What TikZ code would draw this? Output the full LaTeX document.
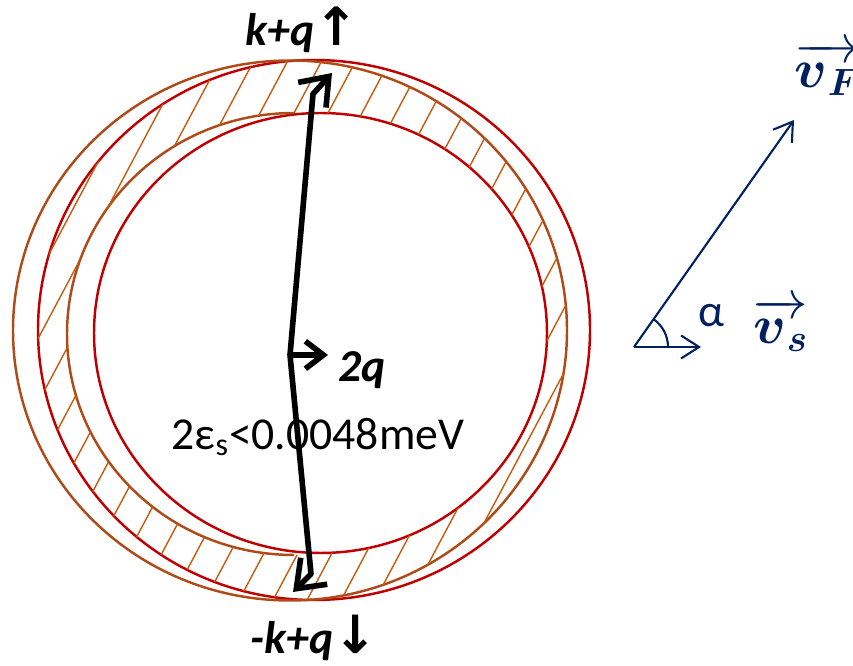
\RequirePackage{fix-cm}
\documentclass[tikz,border=0pt]{standalone}
\usepackage{amsmath}
\usepackage{fontspec}
\setmainfont{Carlito}
\newfontfamily\arrowfont{DejaVu Sans}
\usetikzlibrary{arrows.meta}
\definecolor{fsred}{RGB}{192,0,0}
\definecolor{fsbrown}{RGB}{175,75,25}
\definecolor{hatchc}{RGB}{197,90,17}
\definecolor{navy}{RGB}{0,32,96}

\begin{document}
\begin{tikzpicture}[x=0.02cm,y=0.02cm,
        shell/.style={line width=1.4pt},
        hatch/.style={hatchc,line width=0.8pt},
        bigvec/.style={line width=3.2pt,line join=round,-{Straight Barb[length=0.5cm,width=0.75cm]}},
        qvec/.style={line width=3.2pt,-{Straight Barb[length=0.36cm,width=0.55cm]}},
        vec/.style={navy,line width=1.2pt,-{Straight Barb[length=0.36cm,width=0.46cm]}},
        lbl/.style={font=\fontsize{26}{30}\selectfont},
        mlbl/.style={text=navy,inner sep=1pt,font=\fontsize{31}{34}\selectfont}]
            \useasboundingbox (0,0) rectangle (853,666);
            \draw[shell,fsred] (314,336) ellipse [x radius=276, y radius=270];
            \draw[shell,fsred] (320.5,333) ellipse [x radius=226.5, y radius=220];
            \draw[shell,fsbrown] (290,335.5) ellipse [x radius=277, y radius=270];
            \draw[shell,fsbrown] (294,553) arc [start angle=90, end angle=270, x radius=227, y radius=221];
            \begin{scope}[even odd rule]
                \clip (314,336) ellipse [x radius=276, y radius=270];
                \clip (290,335.5) ellipse [x radius=277, y radius=270];
                \clip (-50,-50) rectangle (900,720) (320.5,333) ellipse [x radius=226.5, y radius=220];
                \clip (-50,-50) rectangle (900,720) (294,332) ellipse [x radius=227, y radius=221];
                \foreach \x in {-340,-306,...,620}
                    \draw[hatch] (\x,0) -- ++(62:800);
            \end{scope}
            \coordinate (O) at (290,311);
            \coordinate (kup) at (313,572);
            \coordinate (kuptip) at (332,593);
            \coordinate (kdn) at (311,92);
            \coordinate (kdntip) at (293,74);
            \coordinate (qtip) at (328,311);
            \draw[bigvec] (O) -- (kup) -- (kuptip);
            \draw[bigvec] (O) -- (kdn) -- (kdntip);
            \draw[qvec] (O) -- (qtip);
            \node[lbl] (kq) at (302,636) {\bfseries\itshape k+q{\arrowfont\fontsize{30}{30}\selectfont↑}};
            \node[lbl] (mkq) at (314,28) {\bfseries\itshape -k+q{\arrowfont\fontsize{30}{30}\selectfont↓}};
            \node[lbl,anchor=west] (twoq) at (332,296) {\bfseries\itshape 2q};
            \node[lbl] (gap) at (318,229) {2ε\textsubscript{s}<0.0048meV};
            \coordinate (A) at (634,319);
            \coordinate (vFtip) at (794,546);
            \coordinate (vstip) at (701,319);
            \draw[vec] (A) -- (vFtip);
            \draw[vec] (A) -- (vstip);
            \draw[navy,line width=1.2pt] (A) ++(34,0) arc [start angle=0, end angle=55, radius=34];
            \node[lbl,text=navy,inner sep=1pt] (alpha) at (711,350) {α};
            \node[mlbl] (vs) at (781,341) {$\overrightarrow{\boldsymbol{v}_{\boldsymbol{s}}}$};
            \node[mlbl] (vF) at (828,597) {$\overrightarrow{\boldsymbol{v}_{\boldsymbol{F}}}$};
        \end{tikzpicture}
\end{document}
